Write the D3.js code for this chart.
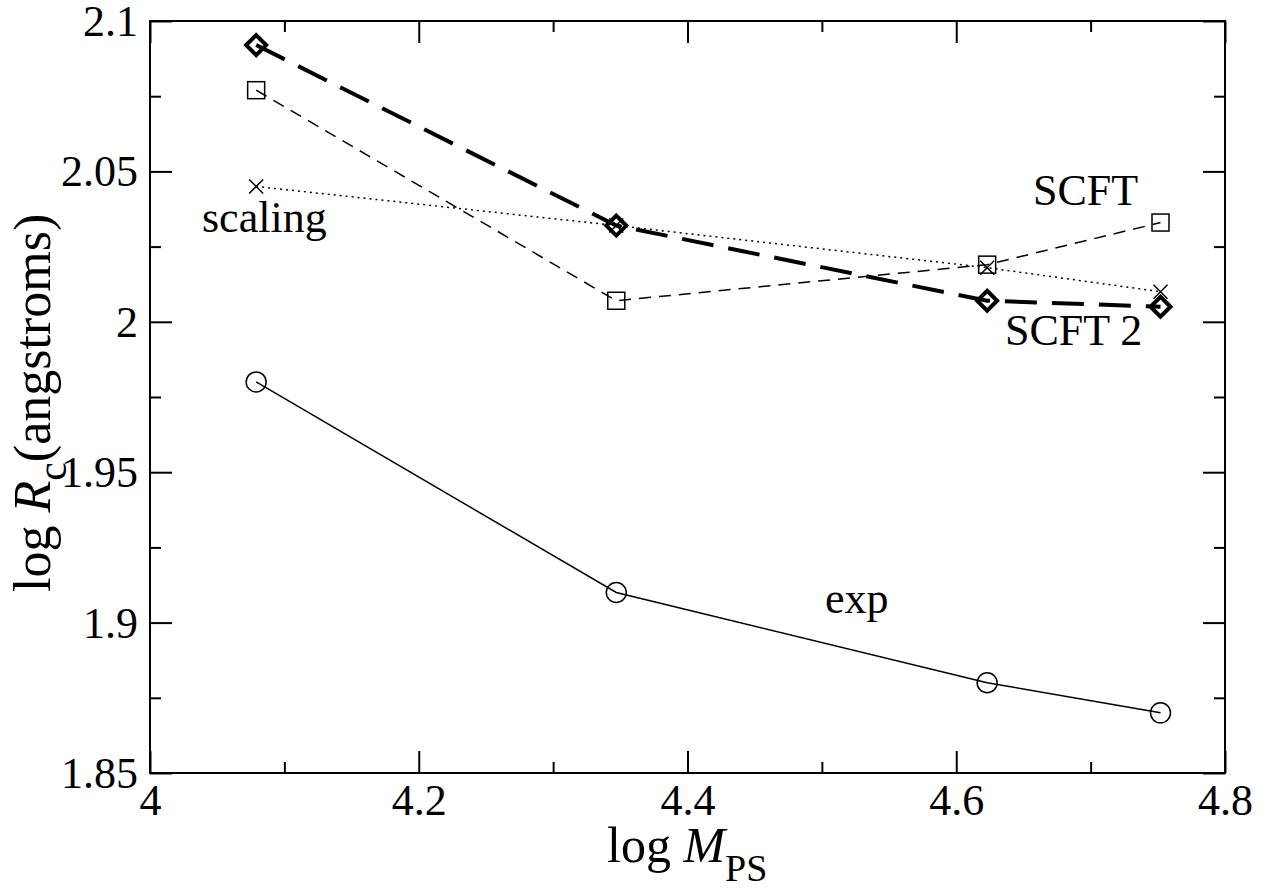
<!DOCTYPE html>
<html><head><meta charset="utf-8">
<script src="https://cdn.jsdelivr.net/npm/d3@7"></script>
<style>body{margin:0;background:#fff}svg{display:block}text{font-family:"Liberation Serif","Times New Roman",serif;fill:#000}</style>
</head><body><svg id="c" width="1266" height="888"></svg>
<script>
const xValues = [4.079, 4.347, 4.623, 4.752];
const expValues = [1.98, 1.91, 1.88, 1.87];
const scftValues = [2.077, 2.007, 2.019, 2.033];
const scalingValues = [2.045, 2.032, 2.018, 2.010];
const scft2Values = [2.092, 2.032, 2.007, 2.005];
const xTicks = [4, 4.2, 4.4, 4.6, 4.8];
const xTickLabels = ["4", "4.2", "4.4", "4.6", "4.8"];
const yTicks = [1.85, 1.9, 1.95, 2, 2.05, 2.1];
const yTickLabels = ["1.85", "1.9", "1.95", "2", "2.05", "2.1"];
const xMinor = [4.1, 4.3, 4.5, 4.7];
const yMinor = [1.875, 1.925, 1.975, 2.025, 2.075];

const SERIF = '"Liberation Serif","Times New Roman",serif';
const svg = d3.select("#c");
const L = 150, R = 1225, T = 21, B = 773;
const x = d3.scaleLinear().domain([4, 4.8]).range([L, R]);
const y = d3.scaleLinear().domain([1.85, 2.1]).range([B, T]);

// frame
svg.append("rect").attr("x", L).attr("y", T).attr("width", R - L).attr("height", B - T)
  .attr("fill", "none").attr("stroke", "#000").attr("stroke-width", 2);

// axes with inward ticks
const fmtX = (d) => xTickLabels[xTicks.indexOf(d)];
const fmtY = (d) => yTickLabels[yTicks.indexOf(d)];
function ax(gen, tr, vals, size, lab) {
  const g = svg.append("g").attr("transform", tr).call(gen.tickValues(vals).tickSize(size).tickSizeOuter(0).tickFormat(lab || (() => "")));
  g.attr("font-family", null).attr("font-size", null);
  g.select(".domain").remove();
  g.selectAll(".tick line").attr("stroke", "#000").attr("stroke-width", 2);
  g.selectAll("text").style("font-family", SERIF).style("font-size", "44px").attr("fill", "#000");
  return g;
}
const gxB = ax(d3.axisBottom(x), `translate(0,${B})`, xTicks, -22, fmtX);
gxB.selectAll("text").attr("y", 42).attr("dy", 0);
ax(d3.axisBottom(x), `translate(0,${B})`, xMinor, -11);
ax(d3.axisTop(x), `translate(0,${T})`, xTicks, -22);
ax(d3.axisTop(x), `translate(0,${T})`, xMinor, -11);
const gyL = ax(d3.axisLeft(y), `translate(${L},0)`, yTicks, -22, fmtY);
gyL.selectAll("text").attr("x", -12).attr("dy", "0.33em");
ax(d3.axisLeft(y), `translate(${L},0)`, yMinor, -11);
ax(d3.axisRight(y), `translate(${R},0)`, yTicks, -22);
ax(d3.axisRight(y), `translate(${R},0)`, yMinor, -11);

const line = d3.line().x((d, i) => x(xValues[i])).y(d => y(d));
function series(vals, w, dash) {
  svg.append("path").datum(vals).attr("d", line).attr("fill", "none")
    .attr("stroke", "#000").attr("stroke-width", w).attr("stroke-dasharray", dash);
}
series(expValues, 1.5, null);
series(scftValues, 1.5, "12,8");
series(scalingValues, 1.5, "2,4");
series(scft2Values, 4, "32,15");

// markers
svg.selectAll(".circ").data(expValues).enter().append("circle")
  .attr("cx", (d, i) => x(xValues[i])).attr("cy", d => y(d)).attr("r", 10)
  .attr("fill", "none").attr("stroke", "#000").attr("stroke-width", 1.5);
svg.selectAll(".sq").data(scftValues).enter().append("rect")
  .attr("x", (d, i) => x(xValues[i]) - 8.5).attr("y", d => y(d) - 8.5)
  .attr("width", 17).attr("height", 17)
  .attr("fill", "none").attr("stroke", "#000").attr("stroke-width", 1.5);
svg.selectAll(".cr").data(scalingValues).enter().append("path")
  .attr("d", (d, i) => { const cx = x(xValues[i]), cy = y(d), s = 7;
    return `M${cx-s},${cy-s}L${cx+s},${cy+s}M${cx-s},${cy+s}L${cx+s},${cy-s}`; })
  .attr("fill", "none").attr("stroke", "#000").attr("stroke-width", 1.5);
svg.selectAll(".dm").data(scft2Values).enter().append("path")
  .attr("d", (d, i) => { const cx = x(xValues[i]), cy = y(d), s = 10;
    return `M${cx},${cy-s}L${cx+s},${cy}L${cx},${cy+s}L${cx-s},${cy}Z`; })
  .attr("fill", "none").attr("stroke", "#000").attr("stroke-width", 4);

// annotations
const ann = [["scaling", 202, 232], ["SCFT", 1033, 205], ["SCFT 2", 1005, 345], ["exp", 825, 613]];
ann.forEach(a => svg.append("text").attr("x", a[1]).attr("y", a[2]).attr("font-size", 44).text(a[0]));

// axis titles
const xt = svg.append("text").attr("x", 607).attr("y", 862).attr("font-size", 50);
xt.append("tspan").text("log ");
xt.append("tspan").attr("font-style", "italic").text("M");
xt.append("tspan").attr("font-size", 38).attr("dy", 19).text("PS");

const yt = svg.append("text").attr("transform", "translate(50,592) rotate(-90)").attr("font-size", 52);
yt.append("tspan").text("log ");
yt.append("tspan").attr("font-style", "italic").text("R");
yt.append("tspan").attr("font-size", 42).attr("dy", 16).text("c");
yt.append("tspan").attr("dy", -16).text("(angstroms)");
</script></body></html>
